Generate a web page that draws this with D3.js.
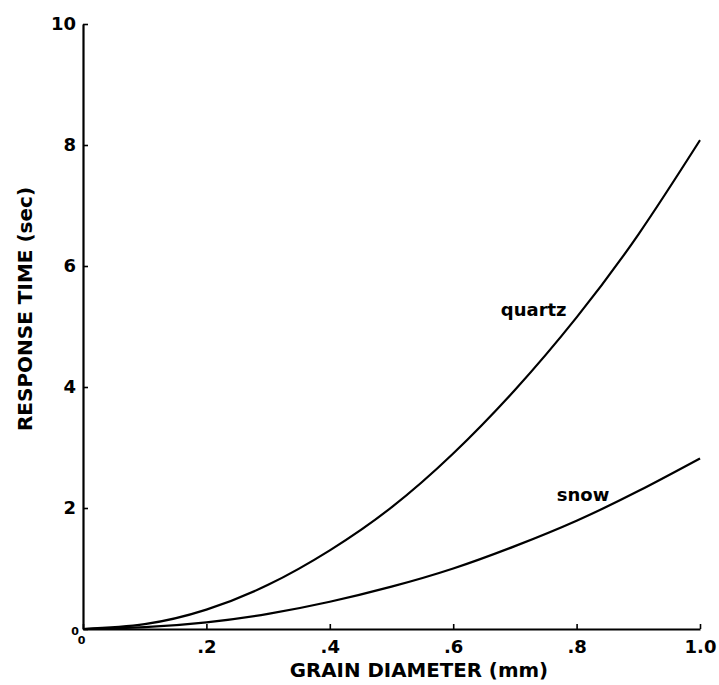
<!DOCTYPE html>
<html>
<head>
<meta charset="utf-8">
<script src="https://cdn.jsdelivr.net/npm/d3@7/dist/d3.min.js"></script>
<style>
  html, body { margin: 0; padding: 0; background: #fff; }
  svg { display: block; }
  text { font-family: "DejaVu Sans", "Liberation Sans", Arial, sans-serif; font-weight: bold; fill: #000; }
</style>
</head>
<body>
<svg id="chart" width="719" height="685"></svg>
<script>
// Grain diameter (mm) at which the response times were read
const diameters = [0, 0.1, 0.2, 0.3, 0.4, 0.5, 0.6, 0.7, 0.8, 0.9, 1.0];
// Response time (sec) for quartz grains
const quartz = [0, 0.08, 0.32, 0.73, 1.30, 2.01, 2.9, 3.95, 5.15, 6.52, 8.08];
// Response time (sec) for snow grains
const snow = [0, 0.03, 0.11, 0.25, 0.45, 0.7, 1.0, 1.37, 1.79, 2.28, 2.82];

const xTicks = [0, 0.2, 0.4, 0.6, 0.8, 1.0];
const xTickLabels = ["0", ".2", ".4", ".6", ".8", "1.0"];
const yTicks = [0, 2, 4, 6, 8, 10];
const yTickLabels = ["0", "2", "4", "6", "8", "10"];

// Each label sits beside its curve, offset from the curve point at labelAt
const series = [
  { name: "quartz", values: quartz, labelAt: 0.8, dx: -10, dy: -1 },
  { name: "snow", values: snow, labelAt: 0.9, dx: -29, dy: 10 }
];

const svg = d3.select("#chart");
const plotLeft = 83, plotRight = 700, plotTop = 24, plotBottom = 629;

const x = d3.scaleLinear().domain([0, 1]).range([plotLeft, plotRight]);
const y = d3.scaleLinear().domain([0, 10]).range([plotBottom, plotTop]);

// Axes with short inward ticks
const xAxis = d3.axisBottom(x)
  .tickValues(xTicks)
  .tickFormat((d, i) => xTickLabels[i])
  .tickSizeInner(-5).tickSizeOuter(0).tickPadding(11);
const yAxis = d3.axisLeft(y)
  .tickValues(yTicks)
  .tickFormat((d, i) => yTickLabels[i])
  .tickSizeInner(-5).tickSizeOuter(0).tickPadding(7);

const gx = svg.append("g").attr("transform", `translate(0,${plotBottom})`).call(xAxis);
const gy = svg.append("g").attr("transform", `translate(${plotLeft},0)`).call(yAxis);

[gx, gy].forEach(g => {
  g.select(".domain").attr("stroke", "#000").attr("stroke-width", 2.2);
  g.selectAll(".tick line").attr("stroke", "#000").attr("stroke-width", 1.6);
  g.selectAll(".tick text")
    .attr("font-family", "DejaVu Sans, Liberation Sans, Arial, sans-serif")
    .attr("font-weight", "bold")
    .attr("font-size", 18)
    .attr("fill", "#000");
});

// The origin zeros are set smaller and tucked against the corner
gx.selectAll(".tick text").filter(d => d === 0)
  .attr("font-size", 11).attr("dy", "0.35em").attr("x", -2);
gy.selectAll(".tick text").filter(d => d === 0)
  .attr("font-size", 11).attr("x", -4).attr("dy", "0.5em");

// Curves
const line = d3.line()
  .x((d, i) => x(diameters[i]))
  .y(d => y(d))
  .curve(d3.curveNatural);

svg.selectAll("path.curve")
  .data(series)
  .join("path")
  .attr("class", "curve")
  .attr("d", s => line(s.values))
  .attr("fill", "none")
  .attr("stroke", "#000")
  .attr("stroke-width", 2.2);

// Curve labels
svg.selectAll("text.curve-label")
  .data(series)
  .join("text")
  .attr("class", "curve-label")
  .attr("x", s => x(s.labelAt) + s.dx)
  .attr("y", s => y(s.values[diameters.indexOf(s.labelAt)]) + s.dy)
  .attr("text-anchor", "end")
  .attr("font-size", 18)
  .text(s => s.name);

// Axis titles
svg.append("text")
  .attr("x", 419)
  .attr("y", 677)
  .attr("text-anchor", "middle")
  .attr("font-size", 19.8)
  .text("GRAIN DIAMETER (mm)");

svg.append("text")
  .attr("transform", `translate(32,309) rotate(-90)`)
  .attr("text-anchor", "middle")
  .attr("font-size", 20)
  .text("RESPONSE TIME (sec)");
</script>
</body>
</html>
